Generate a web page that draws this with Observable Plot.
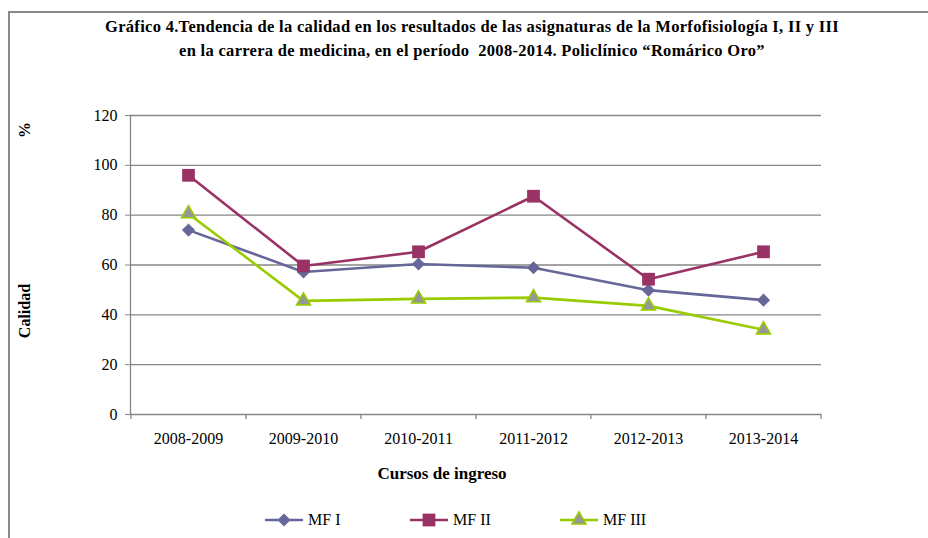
<!DOCTYPE html>
<html><head><meta charset="utf-8">
<script src="https://cdn.jsdelivr.net/npm/d3@7"></script>
<script src="https://cdn.jsdelivr.net/npm/@observablehq/plot@0.6"></script>
<style>
body{margin:0;background:#fff}
#wrap{position:relative;width:928px;height:538px;overflow:hidden;background:#fff;font-family:"Liberation Serif","Times New Roman",serif;color:#000}
.abs{position:absolute;white-space:nowrap}
#frame{position:absolute;left:8px;top:11px;width:2000px;height:2000px;border-left:2px solid #8a8a8a;border-top:2px solid #8a8a8a}
#title{left:0;width:944px;top:15px;text-align:center;font-weight:bold;font-size:16.5px;letter-spacing:0.3px;line-height:24px;white-space:pre}
.rot{transform:translate(-50%,-50%) rotate(-90deg);font-weight:bold;font-size:16px}
#xlab{left:442px;top:474px;transform:translate(-50%,-50%);font-weight:bold;font-size:17px}
.leg{position:absolute;top:508px;height:24px;display:flex;align-items:center;font-size:16px}
.leg svg{margin-right:5px}
</style></head><body><div id="wrap"><div id="frame"></div></div>
<script>
const cursos = ["2008-2009","2009-2010","2010-2011","2011-2012","2012-2013","2013-2014"];
const series = ["MF I","MF II","MF III"];
const mf1 = [74, 57.2, 60.4, 58.9, 49.9, 45.9];
const mf2 = [96, 59.6, 65.3, 87.6, 54.3, 65.3];
const mf3 = [80.6, 45.6, 46.4, 46.9, 43.6, 34];
const yTicks = [0, 20, 40, 60, 80, 100, 120];
const titleLines = [
  "Gráfico 4.Tendencia de la calidad en los resultados de las asignaturas de la Morfofisiología I, II y III",
  "en la carrera de medicina, en el período  2008-2014. Policlínico “Romárico Oro”"
];
const yLabel = "Calidad";
const yUnit = "%";
const xLabel = "Cursos de ingreso";

const colors = ["#666699", "#993366", "#99CC00"];
const fills = ["#666699", "#993366", "#969696"];
const symbols = ["diamond2", "square", "triangle"];
const radii = [5.9, 7.2, 5.2];
const d3symbols = [d3.symbolDiamond2, d3.symbolSquare, d3.symbolTriangle];

const values = [mf1, mf2, mf3];
const data = series.flatMap((s, k) => cursos.map((c, i) => ({curso: c, serie: s, v: values[k][i]})));

const W = 928, H = 538, mL = 130, mR = 107, mT = 115, mB = 124;
const step = (W - mL - mR) / cursos.length;
const grid = "#868686";

const chart = Plot.plot({
  width: W, height: H, marginLeft: mL, marginRight: mR, marginTop: mT, marginBottom: mB,
  style: {fontFamily: "'Liberation Serif','Times New Roman',serif", fontSize: "16px", background: "transparent", color: "#000", overflow: "visible"},
  x: {type: "point", domain: cursos, padding: 0.5},
  y: {domain: [0, 120]},
  color: {domain: series, range: colors},
  marks: [
    Plot.gridY(yTicks.slice(1), {stroke: grid, strokeOpacity: 1, strokeWidth: 1.3}),
    Plot.ruleY([0], {stroke: grid, strokeWidth: 1.3}),
    Plot.frame({anchor: "left", stroke: grid, strokeWidth: 1.3}),
    Plot.axisY(yTicks, {tickSize: 5, tickPadding: 8, stroke: grid, fill: "#000", fontSize: 16, label: null}),
    Plot.axisX(cursos, {tickSize: 0, tickPadding: 18, fontSize: 16, fill: "#000", label: null}),
    Plot.ruleX(cursos, {x: d => d, dx: -step / 2, y1: () => 0, y2: () => 0, insetBottom: -5, stroke: grid, strokeWidth: 1.3}),
    Plot.ruleX(cursos.slice(-1), {x: d => d, dx: step / 2, y1: () => 0, y2: () => 0, insetBottom: -5, stroke: grid, strokeWidth: 1.3}),
    Plot.line(data, {x: "curso", y: "v", z: "serie", stroke: "serie", strokeWidth: 2.6}),
    ...series.map((s, k) => Plot.dot(data.filter(d => d.serie === s), {
      x: "curso", y: "v", symbol: symbols[k], r: radii[k], fill: fills[k],
      stroke: k === 2 ? colors[2] : "none", strokeWidth: 1.6
    }))
  ]
});
chart.style.position = "absolute";
chart.style.left = "0px";
chart.style.top = "0px";
const wrap = document.getElementById("wrap");
wrap.appendChild(chart);

function addDiv(cls, id, text, style) {
  const d = document.createElement("div");
  d.className = cls; if (id) d.id = id; d.textContent = text;
  if (style) Object.assign(d.style, style);
  wrap.appendChild(d); return d;
}
addDiv("abs", "title", titleLines.join("\n"));
addDiv("abs rot", null, yLabel, {left: "25px", top: "311px"});
addDiv("abs rot", null, yUnit, {left: "25px", top: "130px"});
addDiv("abs", "xlab", xLabel);

const legX = [265, 410, 560];
series.forEach((s, k) => {
  const item = document.createElement("div");
  item.className = "leg";
  item.style.left = legX[k] + "px";
  const svg = d3.create("svg").attr("width", 38).attr("height", 24);
  svg.append("line").attr("x1", 0).attr("x2", 38).attr("y1", 12).attr("y2", 12)
    .attr("stroke", colors[k]).attr("stroke-width", 2.6);
  svg.append("path").attr("transform", "translate(19,12)")
    .attr("d", d3.symbol(d3symbols[k], Math.PI * radii[k] * radii[k])())
    .attr("fill", fills[k]).attr("stroke", k === 2 ? colors[2] : "none").attr("stroke-width", 1.6);
  item.appendChild(svg.node());
  const t = document.createElement("span");
  t.textContent = s;
  item.appendChild(t);
  wrap.appendChild(item);
});
</script></body></html>
